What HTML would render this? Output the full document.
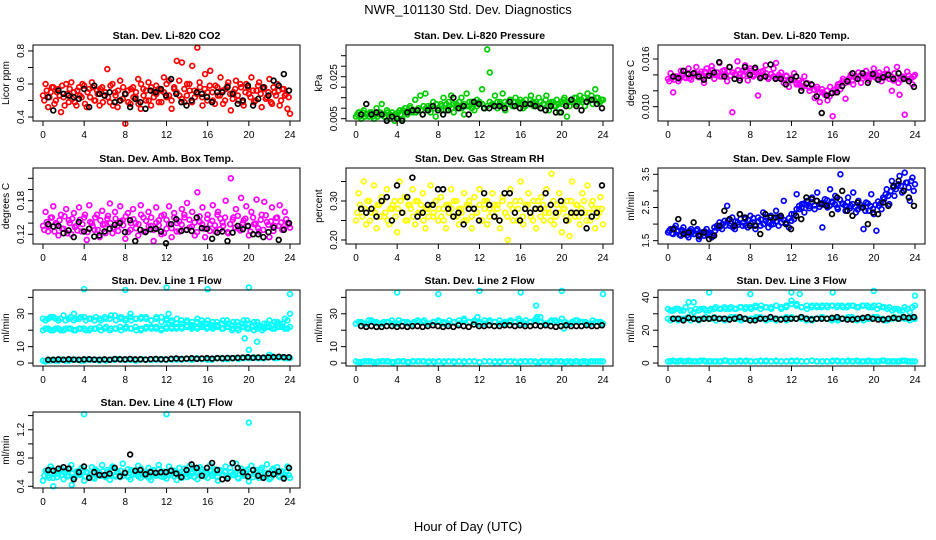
<!DOCTYPE html>
<html><head><meta charset="utf-8"><style>
html,body{margin:0;padding:0;background:#fff;}
svg{display:block;font-family:"Liberation Sans",sans-serif;}
</style></head><body>
<svg id="chart" width="936" height="540" viewBox="0 0 936 540" xmlns="http://www.w3.org/2000/svg">
<text x="468" y="14" font-size="13" text-anchor="middle">NWR_101130  Std. Dev. Diagnostics</text>
<text x="468" y="531" font-size="13" text-anchor="middle">Hour of Day (UTC)</text>
</svg>
<script>
const xTicks=[0,4,8,12,16,20,24];
const co2Col=[0.53,0.60,0.46,0.55,0.58,0.50,0.57,0.43,0.52,0.60,0.49,0.61,0.55,0.47,0.58,0.52,0.59,0.46,0.57,0.61,0.50,0.56,0.47,0.58,0.53,0.69,0.49,0.60,0.55,0.46,0.62,0.51,0.36,0.56,0.48,0.58,0.52,0.63,0.45,0.57,0.50,0.61,0.47,0.55,0.59,0.49,0.56,0.64,0.52,0.62,0.45,0.57,0.74,0.53,0.73,0.49,0.60,0.56,0.71,0.52,0.82,0.58,0.47,0.66,0.55,0.68,0.50,0.59,0.53,0.64,0.48,0.57,0.61,0.44,0.55,0.62,0.50,0.58,0.47,0.60,0.54,0.64,0.49,0.56,0.61,0.46,0.58,0.52,0.63,0.48,0.55,0.60,0.47,0.57,0.53,0.45,0.42];
const co2ColB=[0.50,0.56,0.52,0.58,0.48,0.55,0.53,0.59,0.47,0.54,0.57,0.51,0.49,0.56,0.53,0.60,0.48,0.55,0.52,0.58,0.50,0.54,0.57,0.49,0.55,0.52,0.59,0.47,0.53,0.56,0.50,0.58,0.54,0.49,0.57,0.52,0.55,0.48,0.60,0.53,0.56,0.50,0.58,0.52,0.54,0.57,0.49,0.55,0.60,0.53,0.50,0.58,0.55,0.62,0.51,0.57,0.53,0.60,0.49,0.56,0.54,0.61,0.52,0.57,0.50,0.59,0.55,0.48,0.58,0.53,0.56,0.50,0.59,0.54,0.51,0.57,0.53,0.60,0.49,0.55,0.58,0.52,0.56,0.50,0.59,0.54,0.57,0.51,0.55,0.49,0.58,0.53,0.56,0.50,0.57,0.54,0.52];
const co2Blk=[0.52,0.44,0.56,0.54,0.53,0.52,0.51,0.57,0.46,0.59,0.54,0.53,0.55,0.49,0.50,0.54,0.46,0.51,0.49,0.45,0.56,0.55,0.57,0.53,0.63,0.54,0.49,0.47,0.50,0.55,0.54,0.52,0.49,0.55,0.55,0.58,0.54,0.48,0.50,0.59,0.47,0.51,0.58,0.53,0.62,0.59,0.66,0.56];
const presCol=[0.006,0.008,0.005,0.009,0.007,0.006,0.008,0.005,0.010,0.007,0.012,0.006,0.009,0.005,0.008,0.004,0.006,0.009,0.005,0.010,0.007,0.011,0.008,0.014,0.009,0.016,0.007,0.017,0.011,0.008,0.013,0.006,0.010,0.012,0.015,0.009,0.013,0.016,0.008,0.012,0.010,0.015,0.007,0.017,0.011,0.013,0.009,0.014,0.012,0.019,0.010,0.038,0.027,0.012,0.016,0.010,0.013,0.017,0.009,0.012,0.014,0.011,0.015,0.013,0.012,0.010,0.014,0.012,0.016,0.011,0.013,0.015,0.010,0.012,0.016,0.009,0.013,0.011,0.014,0.008,0.012,0.015,0.006,0.011,0.013,0.015,0.012,0.016,0.013,0.011,0.017,0.014,0.012,0.019,0.015,0.013,0.014];
const presColB=[0.007,0.006,0.008,0.006,0.007,0.008,0.006,0.007,0.006,0.008,0.007,0.006,0.008,0.007,0.006,0.007,0.008,0.007,0.009,0.008,0.009,0.010,0.009,0.008,0.010,0.009,0.011,0.010,0.009,0.011,0.010,0.012,0.010,0.011,0.009,0.012,0.011,0.010,0.012,0.011,0.013,0.010,0.012,0.011,0.013,0.010,0.012,0.011,0.013,0.012,0.010,0.011,0.013,0.012,0.011,0.013,0.012,0.011,0.013,0.012,0.014,0.011,0.013,0.012,0.014,0.013,0.011,0.012,0.014,0.013,0.012,0.011,0.013,0.012,0.014,0.011,0.012,0.013,0.011,0.012,0.013,0.014,0.012,0.013,0.014,0.012,0.015,0.013,0.014,0.015,0.013,0.014,0.016,0.014,0.015,0.013,0.014];
const presBlk=[0.007,0.012,0.007,0.008,0.007,0.004,0.006,0.005,0.004,0.008,0.009,0.009,0.007,0.009,0.011,0.009,0.007,0.009,0.015,0.010,0.011,0.007,0.013,0.012,0.010,0.010,0.011,0.011,0.010,0.013,0.011,0.010,0.012,0.012,0.011,0.010,0.009,0.011,0.008,0.008,0.011,0.014,0.011,0.009,0.013,0.014,0.012,0.010];
const tempCol=[0.0135,0.0142,0.0118,0.0138,0.0132,0.0145,0.0140,0.0136,0.0148,0.0134,0.0141,0.0150,0.0137,0.0144,0.0130,0.0148,0.0139,0.0151,0.0135,0.0143,0.0155,0.0138,0.0146,0.0132,0.0150,0.0093,0.0141,0.0157,0.0136,0.0145,0.0152,0.0133,0.0148,0.0140,0.0147,0.0114,0.0138,0.0145,0.0152,0.0135,0.0141,0.0148,0.0155,0.0137,0.0143,0.0130,0.0139,0.0125,0.0136,0.0142,0.0128,0.0133,0.0124,0.0138,0.0130,0.0120,0.0127,0.0111,0.0122,0.0106,0.0118,0.0115,0.0108,0.0125,0.0088,0.0118,0.0128,0.0122,0.0135,0.0110,0.0131,0.0140,0.0128,0.0136,0.0143,0.0130,0.0139,0.0145,0.0133,0.0140,0.0148,0.0136,0.0143,0.0132,0.0141,0.0147,0.0135,0.0120,0.0142,0.0150,0.0115,0.0138,0.0090,0.0144,0.0135,0.0128,0.0140];
const tempColB=[0.0132,0.0136,0.0134,0.0138,0.0135,0.0140,0.0137,0.0142,0.0136,0.0139,0.0143,0.0138,0.0141,0.0137,0.0144,0.0139,0.0142,0.0146,0.0140,0.0143,0.0138,0.0145,0.0141,0.0144,0.0139,0.0143,0.0140,0.0146,0.0142,0.0139,0.0144,0.0141,0.0145,0.0138,0.0143,0.0140,0.0144,0.0139,0.0142,0.0137,0.0141,0.0138,0.0136,0.0140,0.0137,0.0134,0.0138,0.0132,0.0135,0.0133,0.0130,0.0128,0.0131,0.0126,0.0129,0.0124,0.0127,0.0121,0.0125,0.0118,0.0122,0.0116,0.0120,0.0113,0.0118,0.0121,0.0125,0.0129,0.0132,0.0130,0.0134,0.0137,0.0133,0.0138,0.0135,0.0139,0.0136,0.0140,0.0137,0.0141,0.0138,0.0142,0.0139,0.0136,0.0140,0.0137,0.0141,0.0138,0.0133,0.0136,0.0130,0.0134,0.0137,0.0135,0.0139,0.0136,0.0138];
const tempBlk=[0.0138,0.0136,0.0145,0.0141,0.0142,0.0138,0.0134,0.0139,0.0143,0.0156,0.0138,0.0150,0.0135,0.0133,0.0150,0.0140,0.0149,0.0136,0.0138,0.0153,0.0135,0.0135,0.0128,0.0134,0.0138,0.0120,0.0129,0.0128,0.0113,0.0092,0.0114,0.0117,0.0118,0.0126,0.0132,0.0142,0.0135,0.0142,0.0130,0.0141,0.0134,0.0137,0.0140,0.0135,0.0142,0.0135,0.0132,0.0125];
const ambCol=[0.135,0.160,0.125,0.150,0.170,0.140,0.118,0.155,0.130,0.165,0.145,0.120,0.158,0.135,0.168,0.125,0.150,0.110,0.172,0.140,0.128,0.155,0.115,0.162,0.138,0.148,0.175,0.122,0.160,0.135,0.170,0.145,0.112,0.158,0.128,0.165,0.140,0.118,0.172,0.150,0.125,0.160,0.135,0.108,0.168,0.145,0.120,0.155,0.130,0.170,0.115,0.158,0.140,0.125,0.165,0.150,0.176,0.132,0.160,0.118,0.195,0.142,0.168,0.115,0.155,0.138,0.172,0.125,0.160,0.148,0.135,0.180,0.122,0.220,0.150,0.165,0.130,0.185,0.145,0.170,0.118,0.160,0.138,0.182,0.125,0.155,0.178,0.142,0.115,0.168,0.135,0.150,0.172,0.128,0.160,0.140,0.132];
const ambColB=[0.128,0.142,0.135,0.150,0.125,0.138,0.145,0.130,0.152,0.122,0.140,0.148,0.133,0.127,0.146,0.138,0.155,0.124,0.142,0.135,0.150,0.128,0.145,0.137,0.122,0.153,0.140,0.132,0.148,0.126,0.143,0.136,0.152,0.124,0.140,0.147,0.131,0.138,0.155,0.125,0.144,0.134,0.150,0.128,0.141,0.136,0.153,0.122,0.146,0.138,0.131,0.150,0.125,0.143,0.137,0.155,0.128,0.146,0.134,0.141,0.124,0.152,0.138,0.130,0.148,0.126,0.144,0.136,0.155,0.129,0.141,0.150,0.124,0.138,0.146,0.132,0.153,0.127,0.140,0.148,0.134,0.125,0.150,0.139,0.131,0.146,0.128,0.154,0.137,0.143,0.126,0.149,0.135,0.141,0.130,0.147,0.138];
const ambBlk=[0.138,0.134,0.135,0.122,0.127,0.115,0.142,0.125,0.130,0.116,0.118,0.125,0.130,0.137,0.140,0.124,0.145,0.108,0.128,0.124,0.129,0.130,0.125,0.104,0.138,0.147,0.126,0.128,0.126,0.150,0.131,0.130,0.112,0.123,0.125,0.108,0.123,0.135,0.129,0.135,0.120,0.120,0.115,0.124,0.132,0.110,0.128,0.140];
const rhCol=[0.25,0.32,0.28,0.35,0.24,0.30,0.27,0.34,0.23,0.29,0.31,0.26,0.33,0.24,0.28,0.30,0.22,0.35,0.27,0.31,0.25,0.29,0.33,0.24,0.30,0.27,0.32,0.23,0.28,0.34,0.26,0.30,0.25,0.31,0.28,0.23,0.29,0.33,0.26,0.30,0.24,0.28,0.32,0.25,0.29,0.23,0.31,0.27,0.33,0.25,0.30,0.24,0.28,0.32,0.26,0.29,0.23,0.31,0.27,0.20,0.33,0.25,0.30,0.28,0.35,0.24,0.29,0.32,0.26,0.30,0.23,0.28,0.31,0.25,0.33,0.27,0.37,0.24,0.29,0.32,0.22,0.28,0.30,0.21,0.35,0.26,0.29,0.24,0.32,0.27,0.34,0.25,0.30,0.23,0.28,0.31,0.24];
const rhColB=[0.27,0.29,0.26,0.28,0.30,0.25,0.28,0.27,0.29,0.26,0.30,0.27,0.25,0.28,0.29,0.26,0.28,0.30,0.27,0.25,0.29,0.28,0.26,0.30,0.27,0.29,0.25,0.28,0.26,0.29,0.27,0.30,0.28,0.26,0.25,0.29,0.27,0.28,0.30,0.26,0.28,0.27,0.25,0.29,0.30,0.26,0.28,0.27,0.29,0.25,0.28,0.30,0.26,0.27,0.29,0.28,0.25,0.30,0.27,0.26,0.29,0.28,0.27,0.25,0.30,0.26,0.28,0.29,0.27,0.25,0.28,0.30,0.26,0.29,0.27,0.28,0.25,0.30,0.26,0.27,0.29,0.28,0.26,0.25,0.30,0.27,0.29,0.26,0.28,0.30,0.25,0.27,0.29,0.28,0.26,0.27,0.28];
const rhBlk=[0.28,0.27,0.28,0.26,0.30,0.31,0.25,0.34,0.27,0.31,0.36,0.26,0.27,0.29,0.29,0.33,0.33,0.28,0.26,0.27,0.24,0.28,0.28,0.25,0.32,0.29,0.26,0.25,0.32,0.32,0.27,0.25,0.28,0.27,0.28,0.28,0.32,0.29,0.27,0.30,0.25,0.27,0.27,0.27,0.23,0.26,0.27,0.34];
const sfCol=[1.75,1.85,1.70,1.95,1.80,1.65,1.90,1.75,1.60,1.85,1.70,1.80,1.55,1.75,1.65,1.85,1.70,1.60,1.90,1.95,2.05,1.85,2.10,2.55,1.95,2.20,1.85,2.05,2.30,1.95,2.15,1.90,2.25,2.05,1.85,2.20,1.95,2.35,2.10,1.90,2.25,2.00,2.40,1.95,2.20,2.70,2.05,1.90,2.30,2.15,2.90,2.45,2.60,2.35,2.70,2.55,2.80,2.45,2.95,2.60,1.90,2.75,2.50,3.05,2.65,2.85,2.45,3.50,2.60,2.40,2.80,2.55,2.95,2.35,2.70,2.50,1.85,2.65,2.40,2.90,2.30,1.80,2.55,2.45,2.75,3.05,2.60,3.30,2.85,3.15,3.45,2.95,3.55,3.25,2.70,3.40,3.20];
const sfColB=[1.80,1.72,1.88,1.78,1.68,1.82,1.74,1.66,1.80,1.76,1.70,1.85,1.62,1.72,1.78,1.68,1.74,1.66,1.80,1.88,1.92,2.00,1.95,2.10,2.02,1.90,2.08,1.98,2.15,2.05,1.95,2.12,2.02,2.18,1.96,2.08,2.14,2.00,2.20,2.06,1.98,2.16,2.08,2.22,2.04,2.12,2.00,2.18,2.10,2.30,2.45,2.55,2.50,2.62,2.58,2.48,2.66,2.56,2.70,2.52,2.64,2.58,2.72,2.55,2.68,2.60,2.50,2.74,2.62,2.56,2.66,2.48,2.60,2.52,2.44,2.58,2.50,2.40,2.62,2.54,2.46,2.58,2.68,2.62,2.80,2.90,2.85,3.00,3.10,3.05,3.20,3.15,3.00,3.25,3.10,3.30,3.00];
const sfBlk=[1.85,2.15,1.70,1.75,2.05,1.65,1.75,1.55,1.65,1.95,2.40,2.15,1.95,2.30,2.20,1.95,1.95,1.70,2.30,2.20,2.20,2.25,2.00,1.85,2.25,2.15,2.80,2.75,2.70,2.60,2.55,2.30,2.80,3.00,2.40,2.25,2.65,2.50,2.00,2.35,2.30,2.65,2.55,3.15,3.30,3.00,2.80,2.55];
const l1Top=[27,27,28,26,29,27,26,27,28,27,26,27,28,27,29,27,26,28,27,27,28,26,27,28,26,25,27,24,26,25,27,24,26,25,23,26,24,25,23,26,24,25,23,24,26,25,24,27,30];
const l1TopB=[26,28,27,27,26,28,27,28,26,27,28,26,27,29,26,28,27,26,27,28,27,26,28,25,27,26,24,26,25,23,25,26,24,23,25,24,26,23,25,24,26,23,25,22,24,23,25,24,26];
const l1Mid=[20,21,20,21,20,21,20,21,21,20,21,22,21,20,21,22,21,21,22,20,21,22,21,20,22,21,22,21,23,22,21,23,22,21,22,21,22,21,20,22,21,20,22,21,22,21,22,21,22];
const l1MidB=[21,20,21,20,21,21,20,21,20,21,21,20,22,21,21,20,22,21,20,21,22,21,22,21,21,22,21,22,22,21,22,22,21,22,23,21,22,20,21,22,21,22,21,20,22,21,22,22,21];
const l1Low=[1.5,1.5,2,1.5,2,1.5,2,2,1.5,2,2,1.5,2,2,2,2.5,2,2,1.5,2,2,2,2.5,2,2,2,2.5,2,2.5,2,2.5,2.5,2,2.5,3,2.5,2.5,3,2.5,3,3,3.5,3,3,5,3,3.5,3,3];
const l1LowB=[1,1.5,1.5,2,1.5,2,2,1.5,2,2,2,2,1.5,2,2.5,2,2,2,2,2.5,2,2,2,2.5,2,2.5,2,2.5,2.5,2,3,2.5,2.5,2,3,3,2.5,3,3,3,3.5,3,3,3,3.5,4,3,3.5,3];
const l1Blk=[2,2,2.2,2,2.3,2.1,2,2.2,2.3,2.1,2,2.2,2,2.4,2.3,2.2,2.5,2.2,2.3,2.1,2.4,2.5,2.3,2.2,2.6,2.8,2.5,2.7,2.9,2.6,2.8,3,2.7,3,2.9,3.1,3,3.2,3.3,3.5,3.2,3.4,3.3,3.5,3.6,3.8,3.6,3.5];
const l1OutH=[4,8,12,16,20,24,19.6,20,20.8,3,8.5,12.2];
const l1OutV=[45,44.5,46,45,46,42,15,8,13,30,30,30];
const l2Top=[24,25,24,26,25,24,25,26,24,25,25,24,26,25,24,25,26,25,24,25,26,27,25,26,25,24,26,25,24,25,26,25,24,26,25,27,25,24,26,25,27,24,25,26,25,24,26,25,24];
const l2TopB=[25,24,26,25,24,25,25,24,26,25,24,25,25,26,24,25,25,24,26,25,24,26,25,25,24,26,25,25,26,24,25,25,26,24,25,26,25,24,25,26,25,25,24,26,25,25,24,25,25];
const l2Low=[1,0.5,1,1,0.5,1,1,0.5,1,1,0.5,1,1,1,0.5,1,1,0.5,1,1,1,0.5,1,1,0.5,1,1,1,0.5,1,1,0.5,1,1,1,0.5,1,1,0.5,1,1,1,0.5,1,1,0.5,1,1,1];
const l2LowB=[0.5,1,1,0.5,1,1,1,0.5,1,1,0.5,1,1,1,1,0.5,1,1,1,0.5,1,1,1,1,0.5,1,1,0.5,1,1,1,1,0.5,1,1,1,0.5,1,1,1,1,0.5,1,1,0.5,1,1,1,1];
const l2Blk=[22.5,22,22.5,22,22,22.5,22.5,22,22.5,22,22.5,22.5,22,22.5,23,22.5,22,22.5,22,23,22.5,22,23.5,22.5,22.5,23,22.5,22.5,23,23,22.5,23,22.5,22.5,23,22.5,23,22.5,22,22.5,23,22.5,22.5,22.5,23,22.5,22.5,23];
const l2OutH=[4,8,12,16,20,24,17.5,17.6,17.9,20.2,15.8,11.8];
const l2OutV=[43,42,44,43,44,42,35,28,28,21,27,28];
const l3Top=[33,32,33,32,37,31,32,33,32,33,33,34,33,33,34,33,34,35,33,34,34,35,33,34,38,36,34,33,35,34,35,34,35,35,34,35,35,34,35,34,35,35,34,34,33,32,34,31,35];
const l3TopB=[32,33,32,34,32,33,33,32,33,34,33,33,34,33,34,34,33,34,35,34,33,35,34,35,36,35,34,35,34,35,34,35,35,34,35,34,35,34,35,35,34,33,34,33,32,33,32,33,34];
const l3Mid=[27,27,26,27,28,27,26,27,27,28,27,26,27,28,27,27,26,27,28,27,27,26,27,28,27,27,28,27,26,27,28,27,27,26,27,28,27,27,26,27,28,27,26,27,28,27,27,26,27];
const l3MidB=[26,27,27,27,26,27,27,28,27,26,27,27,28,27,26,27,27,28,27,26,27,27,27,26,28,27,27,26,27,27,28,27,26,27,27,27,28,26,27,27,27,28,27,26,27,27,28,27,27];
const l3Low=[1,1.5,1,1,1.5,1,1,1.5,1,1,1,1.5,1,1,1.5,1,1,1,1.5,1,1,1.5,1,1,1,1.5,1,1,1.5,1,1,1,1.5,1,1,1.5,1,1,1,1.5,1,1,1.5,1,1,1,1.5,1,1];
const l3LowB=[1,1,1.5,1,1,1,1.5,1,1,1,1,1.5,1,1,1,1.5,1,1,1,1.5,1,1,1,1,1.5,1,1,1,1.5,1,1,1,1,1.5,1,1,1,1.5,1,1,1,1,1.5,1,1,1,1.5,1,1];
const l3Blk=[27,27,26,27.5,27,26.5,27,27,27.5,27,27,26.5,27,28,27,26,26,27,27,28,27,26.5,27,27,27,28,27,26.5,27,27,27,27.5,28,27,26.5,26.5,27,27.5,28,27,26.5,26.5,27,27.5,27,28,27.5,28];
const l3OutH=[4,8,12,12.8,16,20,24,2.5];
const l3OutV=[43,42,43,42,43,44,41,37];
const l4Col=[0.48,0.62,0.55,0.68,0.52,0.60,0.58,0.65,0.50,0.63,0.55,0.70,0.53,0.61,0.57,0.66,0.48,0.60,0.54,0.67,0.51,0.62,0.58,0.70,0.55,0.63,0.49,0.68,0.56,0.61,0.53,0.72,0.58,0.64,0.50,0.62,0.57,0.69,0.52,0.60,0.55,0.66,0.49,0.63,0.58,0.70,0.54,0.61,0.51,0.68,0.57,0.62,0.49,0.66,0.55,0.60,0.53,0.69,0.58,0.63,0.50,0.67,0.55,0.61,0.52,0.70,0.58,0.64,0.48,0.62,0.56,0.68,0.53,0.60,0.57,0.72,0.51,0.65,0.55,0.62,0.47,0.69,0.57,0.63,0.52,0.66,0.55,0.71,0.50,0.63,0.58,0.67,0.53,0.61,0.56,0.68,0.52];
const l4ColB=[0.55,0.60,0.52,0.64,0.57,0.53,0.62,0.56,0.59,0.54,0.65,0.58,0.52,0.61,0.56,0.63,0.54,0.59,0.57,0.52,0.64,0.58,0.55,0.61,0.53,0.60,0.56,0.66,0.54,0.59,0.62,0.55,0.58,0.53,0.63,0.57,0.60,0.54,0.65,0.56,0.59,0.52,0.62,0.57,0.55,0.64,0.58,0.53,0.60,0.56,0.63,0.54,0.59,0.57,0.52,0.65,0.58,0.55,0.61,0.53,0.60,0.56,0.64,0.54,0.59,0.62,0.55,0.58,0.53,0.63,0.57,0.60,0.54,0.66,0.56,0.59,0.52,0.62,0.57,0.55,0.64,0.58,0.53,0.60,0.56,0.63,0.54,0.59,0.57,0.52,0.65,0.58,0.55,0.61,0.53,0.60,0.56];
const l4Blk=[0.63,0.62,0.65,0.67,0.65,0.50,0.60,0.68,0.52,0.60,0.56,0.56,0.58,0.66,0.54,0.59,0.85,0.62,0.63,0.57,0.60,0.59,0.60,0.60,0.62,0.58,0.53,0.63,0.71,0.66,0.55,0.66,0.73,0.63,0.50,0.51,0.73,0.66,0.60,0.54,0.63,0.55,0.52,0.58,0.57,0.61,0.51,0.66];
const l4OutH=[4,12,20,1,2.8];
const l4OutV=[1.42,1.42,1.30,0.40,0.42];

const NS='http://www.w3.org/2000/svg';
const svg=document.getElementById('chart');
function mk(tag,attrs,parent){const e=document.createElementNS(NS,tag);for(const k in attrs)e.setAttribute(k,attrs[k]);(parent||svg).appendChild(e);return e;}
const colL=[33,346,658], rowT=[45,168,290,412], BW=267, BH=76;

function panel(p){
  const L=colL[p.col], T=rowT[p.row];
  const g=mk('g',{});
  
  
  const xs=h=>L+10+h*(247/24);
  const ys=v=>T+BH-(v-p.ymin)/(p.ymax-p.ymin)*BH;
  const t=mk('text',{x:L+BW/2,y:T-6,'font-size':10.5,'font-weight':'bold','text-anchor':'middle'},g);
  t.textContent=p.title;
  
  
  const sg=mk('g',{fill:'none','stroke-width':1.7},g);
  
  
  function dots(vals,hs,color,nm){
    vals.forEach((v,i)=>{
      const c=mk('circle',{cx:xs(hs(i)),cy:ys(v),r:2.4,stroke:color},sg);
      
      
    });
  }
  const full=a=>i=>i*24/(a.length-1);
  const half=a=>i=>(i+0.5)*24/a.length;
  p.colA.forEach(a=>dots(a,full(a),p.color,p.name+'-point'));
  p.colB.forEach(a=>dots(a,half(a),p.color,p.name+'-point'));
  if(p.outH) dots(p.outV,i=>p.outH[i],p.color,p.name+'-outlier');
  dots(p.blk,i=>0.5+i*23.4/(p.blk.length-1),'#000',p.name+'-hourly-mean');
  const b=mk('rect',{x:L,y:T,width:BW,height:BH,fill:'none',stroke:'#000','stroke-width':1},g);
  
  
  const xa=mk('g',{},g);
  
  
  xTicks.forEach(v=>{
    mk('line',{x1:xs(v),x2:xs(v),y1:T+BH,y2:T+BH+5,stroke:'#000'},xa);
    const tx=mk('text',{x:xs(v),y:T+BH+17,'font-size':10,'text-anchor':'middle'},xa);
    tx.textContent=v;
  });
  const ya=mk('g',{},g);
  
  
  p.yTicks.forEach(v=>{
    mk('line',{x1:L,x2:L-5,y1:ys(v),y2:ys(v),stroke:'#000'},ya);
  });
  p.yLabels.forEach((v,i)=>{
    const yy=ys(v), xx=L-9;
    const tx=mk('text',{x:xx,y:yy,'font-size':10,'text-anchor':'middle',transform:`rotate(-90 ${xx} ${yy})`},ya);
    tx.textContent=p.yLabelText[i];
  });
  const yt=mk('text',{x:L-24,y:T+BH/2,'font-size':10,'text-anchor':'middle',transform:`rotate(-90 ${L-24} ${T+BH/2})`},g);
  yt.textContent=p.ylab;
  
  
}

panel({name:'co2',col:0,row:0,title:'Stan. Dev. Li-820 CO2',ylab:'Licor ppm',ymin:0.376,ymax:0.836,color:'#ff0000',colA:[co2Col],colB:[co2ColB],blk:co2Blk,yTicks:[0.4,0.5,0.6,0.7,0.8],yLabels:[0.4,0.6,0.8],yLabelText:['0.4','0.6','0.8']});
panel({name:'pressure',col:1,row:0,title:'Stan. Dev. Li-820 Pressure',ylab:'kPa',ymin:0.0039,ymax:0.0401,color:'#00cd00',colA:[presCol],colB:[presColB],blk:presBlk,yTicks:[0.005,0.010,0.015,0.020,0.025,0.030,0.035],yLabels:[0.005,0.025],yLabelText:['0.005','0.025']});
panel({name:'li820-temp',col:2,row:0,title:'Stan. Dev. Li-820 Temp.',ylab:'degrees C',ymin:0.0082,ymax:0.01776,color:'#ff00ff',colA:[tempCol],colB:[tempColB],blk:tempBlk,yTicks:[0.010,0.012,0.014,0.016],yLabels:[0.010,0.016],yLabelText:['0.010','0.016']});
panel({name:'amb-box-temp',col:0,row:1,title:'Stan. Dev. Amb. Box Temp.',ylab:'degrees C',ymin:0.1027,ymax:0.2384,color:'#ff00ff',colA:[ambCol],colB:[ambColB],blk:ambBlk,yTicks:[0.12,0.14,0.16,0.18,0.20,0.22],yLabels:[0.12,0.18],yLabelText:['0.12','0.18']});
panel({name:'gas-rh',col:1,row:1,title:'Stan. Dev. Gas Stream RH',ylab:'percent',ymin:0.1897,ymax:0.3846,color:'#ffff00',colA:[rhCol],colB:[rhColB],blk:rhBlk,yTicks:[0.20,0.25,0.30,0.35],yLabels:[0.20,0.30],yLabelText:['0.20','0.30']});
panel({name:'sample-flow',col:2,row:1,title:'Stan. Dev. Sample Flow',ylab:'ml/min',ymin:1.40,ymax:3.69,color:'#0000ff',colA:[sfCol],colB:[sfColB],blk:sfBlk,yTicks:[1.5,2.0,2.5,3.0,3.5],yLabels:[1.5,2.5,3.5],yLabelText:['1.5','2.5','3.5']});
panel({name:'line1-flow',col:0,row:2,title:'Stan. Dev. Line 1 Flow',ylab:'ml/min',ymin:-1.8,ymax:44.5,color:'#00ffff',colA:[l1Top,l1Mid,l1Low],colB:[l1TopB,l1MidB,l1LowB],outH:l1OutH,outV:l1OutV,blk:l1Blk,yTicks:[0,10,20,30,40],yLabels:[0,10,30],yLabelText:['0','10','30']});
panel({name:'line2-flow',col:1,row:2,title:'Stan. Dev. Line 2 Flow',ylab:'ml/min',ymin:-1.8,ymax:44.5,color:'#00ffff',colA:[l2Top,l2Low],colB:[l2TopB,l2LowB],outH:l2OutH,outV:l2OutV,blk:l2Blk,yTicks:[0,10,20,30,40],yLabels:[0,10,30],yLabelText:['0','10','30']});
panel({name:'line3-flow',col:2,row:2,title:'Stan. Dev. Line 3 Flow',ylab:'ml/min',ymin:-1.8,ymax:44.5,color:'#00ffff',colA:[l3Top,l3Mid,l3Low],colB:[l3TopB,l3MidB,l3LowB],outH:l3OutH,outV:l3OutV,blk:l3Blk,yTicks:[0,10,20,30,40],yLabels:[0,20,40],yLabelText:['0','20','40']});
panel({name:'line4-flow',col:0,row:3,title:'Stan. Dev. Line 4 (LT) Flow',ylab:'ml/min',ymin:0.376,ymax:1.451,color:'#00ffff',colA:[l4Col],colB:[l4ColB],outH:l4OutH,outV:l4OutV,blk:l4Blk,yTicks:[0.4,0.6,0.8,1.0,1.2,1.4],yLabels:[0.4,0.8,1.2],yLabelText:['0.4','0.8','1.2']});
</script>
</body></html>
